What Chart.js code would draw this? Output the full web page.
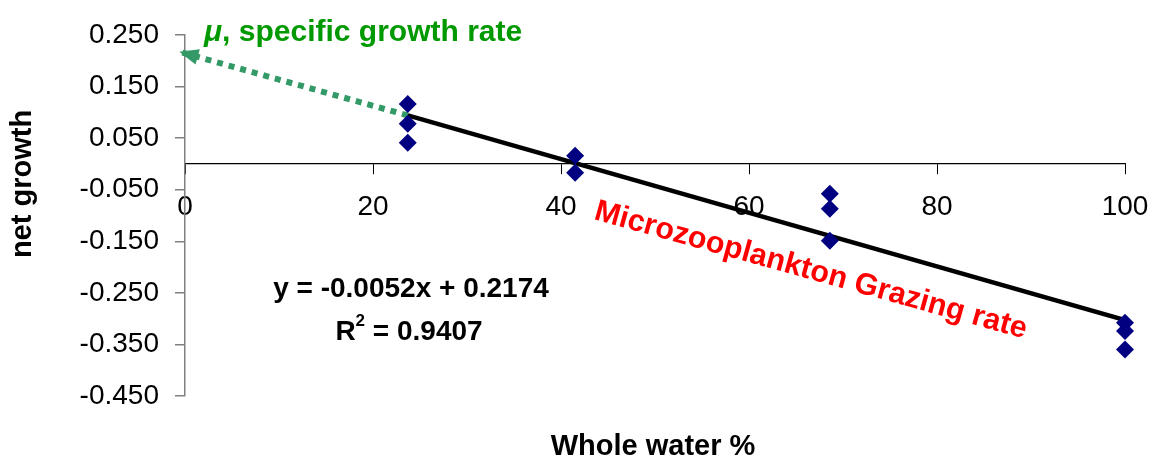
<!DOCTYPE html>
<html>
<head>
<meta charset="utf-8">
<script src="https://cdn.jsdelivr.net/npm/chart.js@4.4.0/dist/chart.umd.min.js"></script>
<style>
  html, body { margin: 0; padding: 0; background: #fff; }
  #wrap { width: 1151px; height: 464px; }
</style>
</head>
<body>
<div id="wrap"><canvas id="growthChart"></canvas></div>
<script>
// measured points: whole water % vs net growth
const waterPct  = [23.7, 23.7, 23.7, 41.5, 41.5, 68.6, 68.6, 68.6, 100, 100, 100];
const netGrowth = [0.116, 0.078, 0.041, 0.016, -0.017, -0.058, -0.087, -0.149, -0.308, -0.324, -0.360];

// linear trendline (y = -0.0052x + 0.2174), end points
const trendX = [23.7, 100];
const trendY = [0.094, -0.303];

// dotted arrow extrapolating to the intercept
const arrowX = [23.7, -0.6];
const arrowY = [0.094, 0.2174];

const xTicks = [0, 20, 40, 60, 80, 100];
const yTicks = [-0.45, -0.35, -0.25, -0.15, -0.05, 0.05, 0.15, 0.25];

const FONT = '"Liberation Sans", Arial, sans-serif';

const pts = (xs, ys) => xs.map((x, i) => ({ x: x, y: ys[i] }));

const annotations = {
  id: 'annotations',
  afterDatasetsDraw(chart) {
    const ctx = chart.ctx;
    const xs = chart.scales.x, ys = chart.scales.y;

    // arrow head
    const x0 = xs.getPixelForValue(arrowX[0]), y0 = ys.getPixelForValue(arrowY[0]);
    const x1 = xs.getPixelForValue(arrowX[1]), y1 = ys.getPixelForValue(arrowY[1]);
    const ang = Math.atan2(y1 - y0, x1 - x0);
    ctx.save();
    ctx.translate(x1, y1);
    ctx.rotate(ang);
    ctx.fillStyle = '#339966';
    ctx.beginPath();
    ctx.moveTo(0, 0);
    ctx.lineTo(-19, -8);
    ctx.lineTo(-19, 8);
    ctx.closePath();
    ctx.fill();
    ctx.restore();

    ctx.save();
    // green label
    ctx.fillStyle = '#009900';
    ctx.textBaseline = 'alphabetic';
    ctx.textAlign = 'left';
    ctx.font = 'italic bold 30px ' + FONT;
    ctx.fillText('\u03bc', 204, 41);
    const mw = ctx.measureText('\u03bc').width;
    ctx.font = 'bold 30px ' + FONT;
    ctx.fillText(', specific growth rate', 204 + mw, 41);

    // red rotated label
    ctx.save();
    ctx.translate(593, 219);
    ctx.rotate(15.5 * Math.PI / 180);
    ctx.fillStyle = '#ff0000';
    ctx.font = 'bold 30.5px ' + FONT;
    ctx.fillText('Microzooplankton Grazing rate', 0, 0);
    ctx.restore();

    // equation
    ctx.fillStyle = '#000';
    ctx.textAlign = 'center';
    ctx.font = 'bold 28px ' + FONT;
    ctx.fillText('y = -0.0052x + 0.2174', 411, 297);
    const r1 = 'R', r2 = ' = 0.9407';
    const w1 = ctx.measureText(r1).width, w2 = ctx.measureText(r2).width;
    ctx.font = 'bold 17px ' + FONT;
    const ws = ctx.measureText('2').width;
    const sx = 409 - (w1 + ws + w2) / 2;
    ctx.textAlign = 'left';
    ctx.font = 'bold 28px ' + FONT;
    ctx.fillText(r1, sx, 340);
    ctx.fillText(r2, sx + w1 + ws, 340);
    ctx.font = 'bold 17px ' + FONT;
    ctx.fillText('2', sx + w1, 326);

    // axis titles
    ctx.font = 'bold 29px ' + FONT;
    ctx.textAlign = 'center';
    ctx.textBaseline = 'middle';
    ctx.fillText('Whole water %', 653, 447);
    ctx.translate(23, 184);
    ctx.rotate(-Math.PI / 2);
    ctx.fillText('net growth', 0, 0);
    ctx.restore();
  }
};

new Chart(document.getElementById('growthChart'), {
  type: 'scatter',
  data: {
    datasets: [
      {
        label: 'arrow',
        data: pts(arrowX, arrowY),
        showLine: true,
        borderColor: '#339966',
        borderWidth: 6,
        borderDash: [6, 6],
        pointRadius: 0,
        clip: false,
        order: 3
      },
      {
        label: 'trend',
        data: pts(trendX, trendY),
        showLine: true,
        borderColor: '#000',
        borderWidth: 4.5,
        pointRadius: 0,
        order: 2
      },
      {
        label: 'net growth',
        data: pts(waterPct, netGrowth),
        pointStyle: 'rectRot',
        pointRadius: 9,
        backgroundColor: '#000080',
        borderColor: '#000080',
        borderWidth: 0,
        clip: false,
        order: 1
      }
    ]
  },
  options: {
    responsive: true,
    maintainAspectRatio: false,
    animation: false,
    layout: { padding: { left: 0, top: 35, right: 26, bottom: 68 } },
    plugins: { legend: { display: false }, tooltip: { enabled: false } },
    scales: {
      x: {
        type: 'linear',
        position: { y: 0 },
        min: 0, max: 100,
        afterBuildTicks: (s) => { s.ticks = xTicks.map(v => ({ value: v })); },
        afterFit: (s) => { s.paddingLeft = 0; s.paddingRight = 0; },
        grid: { drawOnChartArea: false, tickLength: 10, color: '#000' },
        border: { color: '#000', width: 1.2 },
        ticks: { color: '#000', padding: 17, maxRotation: 0, font: { family: FONT, size: 28 } }
      },
      y: {
        type: 'linear',
        min: -0.45, max: 0.25,
        afterBuildTicks: (s) => { s.ticks = yTicks.map(v => ({ value: v })); },
        afterFit: (s) => { s.width = 185; },
        grid: { drawOnChartArea: false, tickLength: 10, color: '#808080', lineWidth: 1.5 },
        border: { color: '#808080', width: 1.5 },
        ticks: {
          color: '#000', padding: 16,
          font: { family: FONT, size: 28 },
          callback: (v) => v.toFixed(3)
        }
      }
    }
  },
  plugins: [annotations]
});
</script>
</body>
</html>
